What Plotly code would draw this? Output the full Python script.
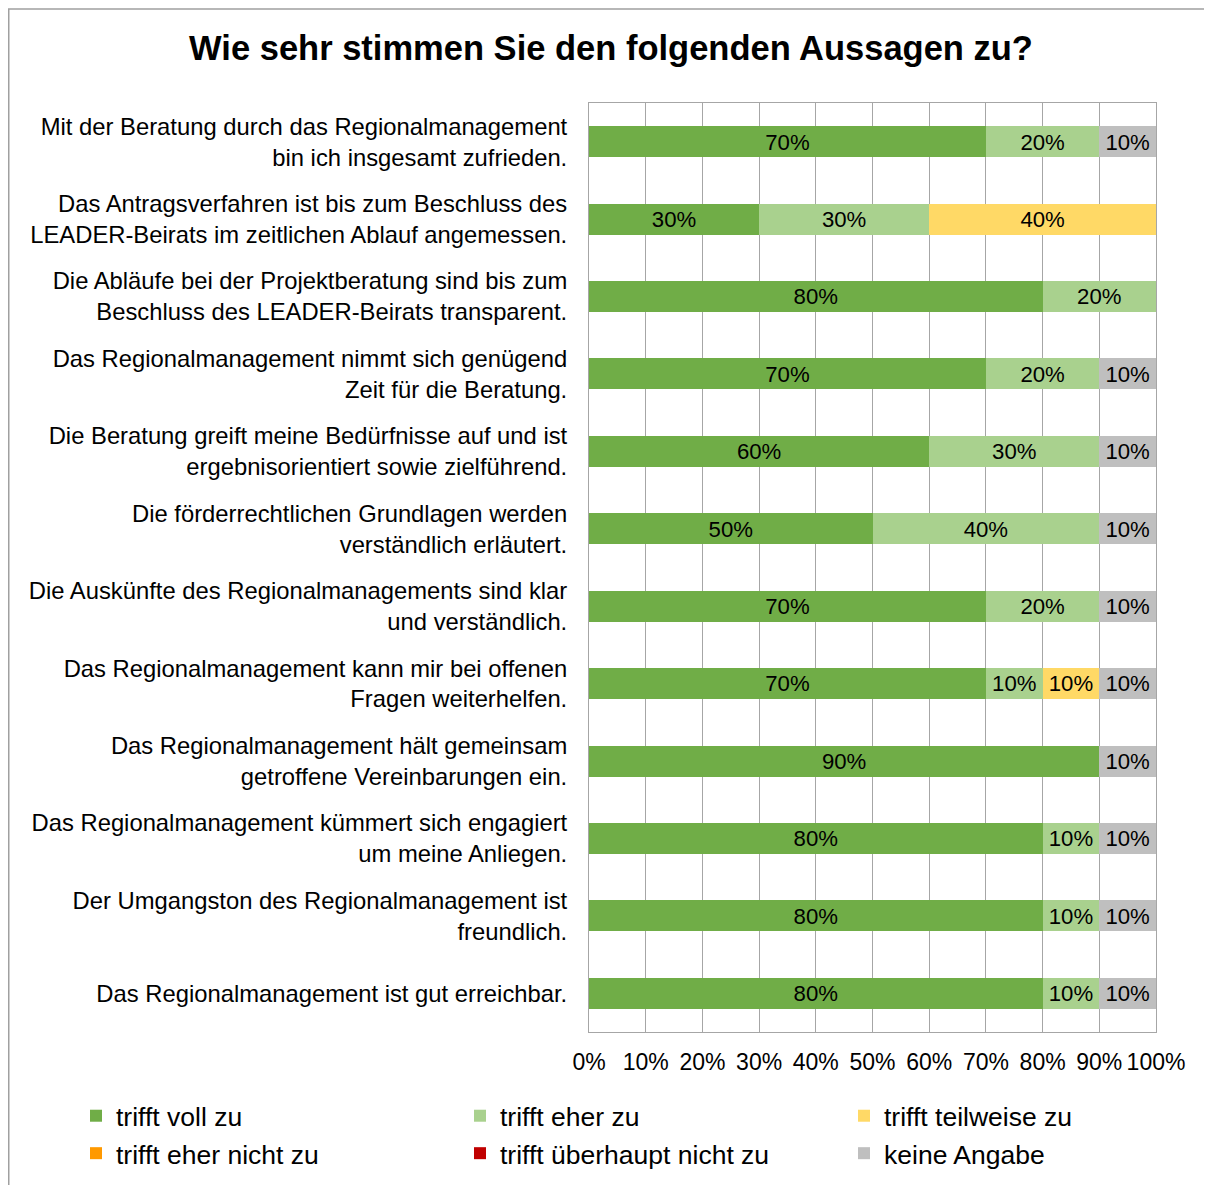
import plotly.graph_objects as go

categories = [
    "Mit der Beratung durch das Regionalmanagement<br>bin ich insgesamt zufrieden.",
    "Das Antragsverfahren ist bis zum Beschluss des<br>LEADER-Beirats im zeitlichen Ablauf angemessen.",
    "Die Abläufe bei der Projektberatung sind bis zum<br>Beschluss des LEADER-Beirats transparent.",
    "Das Regionalmanagement nimmt sich genügend<br>Zeit für die Beratung.",
    "Die Beratung greift meine Bedürfnisse auf und ist<br>ergebnisorientiert sowie zielführend.",
    "Die förderrechtlichen Grundlagen werden<br>verständlich erläutert.",
    "Die Auskünfte des Regionalmanagements sind klar<br>und verständlich.",
    "Das Regionalmanagement kann mir bei offenen<br>Fragen weiterhelfen.",
    "Das Regionalmanagement hält gemeinsam<br>getroffene Vereinbarungen ein.",
    "Das Regionalmanagement kümmert sich engagiert<br>um meine Anliegen.",
    "Der Umgangston des Regionalmanagement ist<br>freundlich.",
    "Das Regionalmanagement ist gut erreichbar.",
]

series_names = [
    "trifft voll zu",
    "trifft eher zu",
    "trifft teilweise zu",
    "trifft eher nicht zu",
    "trifft überhaupt nicht zu",
    "keine Angabe",
]

voll_zu = [0.7, 0.3, 0.8, 0.7, 0.6, 0.5, 0.7, 0.7, 0.9, 0.8, 0.8, 0.8]
eher_zu = [0.2, 0.3, 0.2, 0.2, 0.3, 0.4, 0.2, 0.1, 0.0, 0.1, 0.1, 0.1]
teilweise_zu = [0.0, 0.4, 0.0, 0.0, 0.0, 0.0, 0.0, 0.1, 0.0, 0.0, 0.0, 0.0]
eher_nicht_zu = [0.0] * 12
ueberhaupt_nicht_zu = [0.0] * 12
keine_angabe = [0.1, 0.0, 0.0, 0.1, 0.1, 0.1, 0.1, 0.1, 0.1, 0.1, 0.1, 0.1]

series_values = [voll_zu, eher_zu, teilweise_zu, eher_nicht_zu, ueberhaupt_nicht_zu, keine_angabe]
colors = ["#70AD47", "#A9D18E", "#FFD966", "#FF9900", "#C00000", "#BFBFBF"]

font_family = "Liberation Sans, Arial, sans-serif"

# page has an 8px body margin, so the figure is 8px smaller than the window
W, H = 1204, 1177
L, R, T, B = 581, 56, 95, 153
plot_w = W - L - R
plot_h = H - T - B

fig = go.Figure()
for name, vals, col in zip(series_names, series_values, colors):
    fig.add_trace(go.Bar(
        y=categories, x=vals, name=name, orientation="h",
        marker=dict(color=col, line=dict(width=0)),
        text=[f"{v:.0%}" if v > 0 else "" for v in vals],
        textposition="inside", insidetextanchor="middle",
        textfont=dict(color="black", size=24, family=font_family),
        width=0.4,
    ))

fig.update_layout(
    barmode="stack",
    width=W, height=H,
    margin=dict(l=L, r=R, t=T, b=B, autoexpand=False),
    paper_bgcolor="white", plot_bgcolor="white",
    font=dict(family=font_family, color="black", size=23),
    title=dict(text="<b>Wie sehr stimmen Sie den folgenden Aussagen zu?</b>",
               x=603 / W, xref="container", xanchor="center",
               y=1 - 40 / H, yref="container", yanchor="middle",
               font=dict(size=34.5)),
    uniformtext=dict(minsize=10, mode="show"),
    legend=dict(orientation="h", xref="paper", yref="paper",
                x=(68 - L) / plot_w, xanchor="left",
                y=-(1084 - (H - B)) / plot_h, yanchor="top",
                entrywidth=0.3345, entrywidthmode="fraction",
                font=dict(size=26.5), traceorder="normal",
                tracegroupgap=0),
)
fig.update_xaxes(range=[0, 1], tickformat=".0%", dtick=0.1, tick0=0,
                 showgrid=True, gridcolor="#A6A6A6", gridwidth=1,
                 showline=True, linecolor="#A6A6A6", mirror=True,
                 ticks="", ticklabelstandoff=9, zeroline=False,
                 tickfont=dict(size=23))
fig.update_yaxes(autorange="reversed", showline=True, linecolor="#A6A6A6",
                 mirror=True, ticks="", ticklabelstandoff=16,
                 tickfont=dict(size=23.8))

# outer chart frame
fig.add_shape(type="rect", xref="paper", yref="paper",
              x0=(0.75 - L) / plot_w, x1=(W + 20 - L) / plot_w,
              y0=-(H + 20 - (H - B)) / plot_h, y1=1 + (T - 1) / plot_h,
              line=dict(color="#A0A0A0", width=1.5), fillcolor="rgba(0,0,0,0)",
              layer="below")

fig.write_html("out.html")
